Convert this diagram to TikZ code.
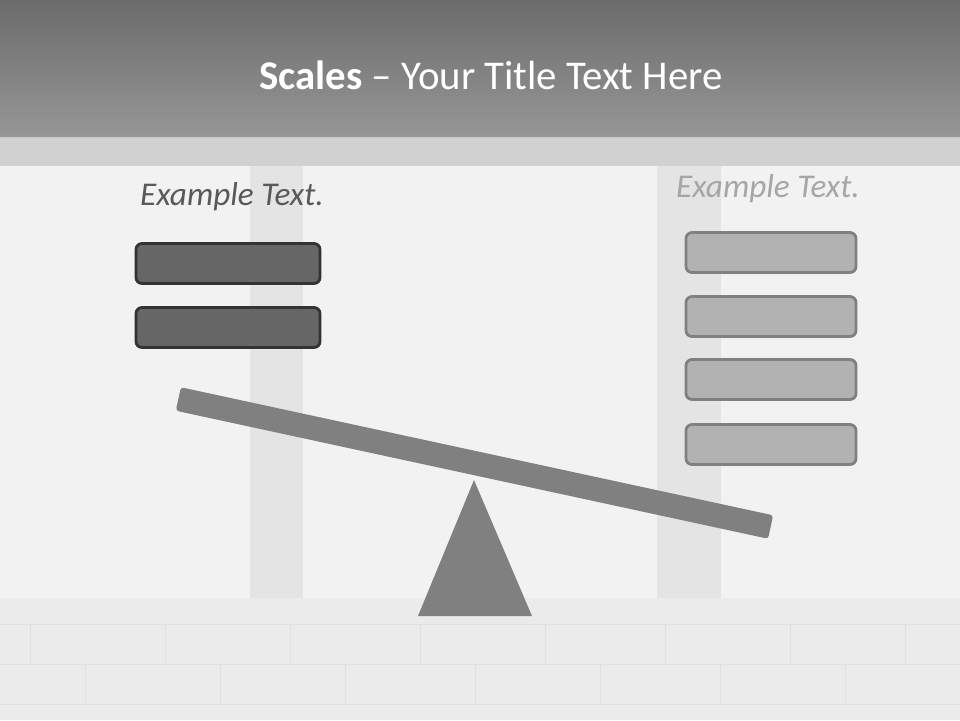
\documentclass[tikz,border=0pt]{standalone}
\usepackage{fontspec}
\setmainfont{Carlito}
\usetikzlibrary{positioning}
\definecolor{wall}{HTML}{EBEBEB}
\definecolor{panel}{HTML}{F2F2F2}
\definecolor{pillar}{HTML}{E4E4E4}
\definecolor{brick}{HTML}{E0E0E0}
\definecolor{band}{HTML}{CFCFCF}
\definecolor{darkbox}{HTML}{666666}
\definecolor{darkline}{HTML}{333333}
\definecolor{lightbox}{HTML}{B2B2B2}
\definecolor{lightline}{HTML}{808080}
\definecolor{seesaw}{HTML}{808080}
\begin{document}
\begin{tikzpicture}[x=0.5pt,y=-0.5pt]
\tikzstyle{heavy}=[draw=darkline,fill=darkbox,line width=1.4pt,rounded corners=3pt,minimum width=92pt,minimum height=20pt]
\tikzstyle{light}=[draw=lightline,fill=lightbox,line width=1.4pt,rounded corners=3pt,minimum width=85pt,minimum height=20pt]
\tikzstyle{label}=[font=\fontsize{16.6}{20}\selectfont\itshape]
\useasboundingbox (0,0) rectangle (960,720);
% wall, panels and pillars
\fill[wall] (0,0) rectangle (960,720);
\fill[pillar] (250,137) rectangle (303,598); \fill[pillar] (657,137) rectangle (721,598);
\fill[panel] (0,166) rectangle (250,598); \fill[panel] (303,166) rectangle (657,598); \fill[panel] (721,166) rectangle (960,598);
\foreach \y in {624,664,704} \draw[brick,line width=0.5pt] (0,\y) -- (960,\y);
\foreach \x in {30,165,290,420,545,665,790,905} \draw[brick,line width=0.5pt] (\x,624) -- (\x,664) (\x+55,664) -- (\x+55,704);
% title banner
\shade[top color=black!58,bottom color=black!41] (0,0) rectangle (960,137);
\fill[band,opacity=0.9] (0,137) rectangle (960,166);
\node[text=white,font=\fontsize{20.4}{25}\selectfont] (title) at (491,75) {\textbf{Scales} -- Your Title Text Here};
% left pan
\node[label,text=black!65] (ltext) at (232,197) {Example Text.};
\node[heavy] (l1) at (228,263.5) {}; \node[heavy] (l2) at (228,327.5) {};
% right pan
\node[label,text=black!35] (rtext) at (768,189) {Example Text.};
\node[light] (r1) at (771,252.5) {}; \node[light] (r2) at (771,316.5) {};
\node[light] (r3) at (771,379.5) {}; \node[light] (r4) at (771,444.5) {};
% seesaw
\coordinate (apex) at (474,480); \coordinate (bl) at (418,616); \coordinate (br) at (532,616);
\fill[seesaw] (apex) -- (br) -- (bl) -- cycle;
\node[fill=seesaw,rounded corners=1.5pt,minimum width=303pt,minimum height=12pt,inner sep=0pt,rotate=-12.2] (beam) at (474.5,463) {};
\end{tikzpicture}
\end{document}
